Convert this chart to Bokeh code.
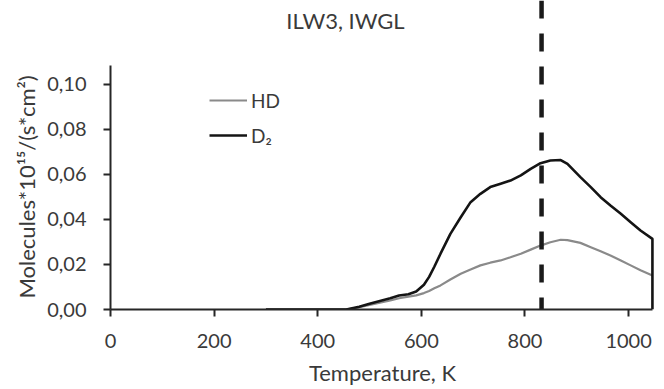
from bokeh.plotting import figure
from bokeh.models import Range1d, FixedTicker, Label, Legend, LegendItem, Title
from bokeh.embed import file_html
from bokeh.resources import INLINE

# ---- data ----
temperature_K = [300, 455, 480, 500, 520, 540, 557, 575, 590, 605, 615, 625, 637,
                 656, 676, 695, 714, 733, 753, 772, 792, 811, 830, 849, 869, 882,
                 907, 927, 946, 965, 985, 1004, 1023, 1046]
d2 = [0.0, 0.0, 0.0012, 0.0025, 0.0038, 0.005, 0.0062, 0.0068, 0.008, 0.011, 0.0145,
      0.019, 0.0248, 0.0336, 0.041, 0.0477, 0.0514, 0.0544, 0.0559, 0.0573, 0.0596,
      0.0625, 0.065, 0.0662, 0.0664, 0.0647, 0.0588, 0.0544, 0.0499, 0.0462, 0.0425,
      0.0388, 0.0351, 0.0314]
hd = [0.0, 0.0, 0.001, 0.002, 0.003, 0.004, 0.005, 0.0057, 0.0063, 0.0073, 0.0082,
      0.0094, 0.0107, 0.0133, 0.0159, 0.0178, 0.0196, 0.0208, 0.0218, 0.0232, 0.0248,
      0.0266, 0.0284, 0.0299, 0.031, 0.0308, 0.0296, 0.0277, 0.0259, 0.024, 0.0218,
      0.0196, 0.0174, 0.0151]
d2_end_value = 0.0          # D2 trace drops to zero at the last temperature
marker_T = 832              # dashed vertical marker

x_ticks = [0, 200, 400, 600, 800, 1000]
x_tick_labels = ["0", "200", "400", "600", "800", "1000"]
y_ticks = [0.0, 0.02, 0.04, 0.06, 0.08, 0.10]
y_tick_labels = ["0,00", "0,02", "0,04", "0,06", "0,08", "0,10"]

title_text = "ILW3, IWGL"
x_label = "Temperature, K"
y_label = "Molecules*10\u00b9\u2075/(s*cm\u00b2)"
series_names = ["HD", "D\u2082"]

x_max = 1050
x_axis_end = 1046
y_axis_end = 0.1084
y_top = 0.1373

FONT = "Lato"
TXT = "#3a3a3a"
AX = "#262626"

p = figure(width=664, height=389, output_backend="svg", toolbar_location=None,
           x_range=Range1d(0, x_max), y_range=Range1d(0, y_top),
           min_border_left=110, min_border_right=10, min_border_top=0,
           min_border_bottom=80)
p.background_fill_color = "white"
p.border_fill_color = "white"
p.outline_line_color = None
p.grid.visible = False

for ax in (p.xaxis, p.yaxis):
    ax.axis_line_color = AX
    ax.axis_line_width = 2
    ax.major_tick_line_color = AX
    ax.major_tick_line_width = 2
    ax.major_tick_out = 7
    ax.major_tick_in = 0
    ax.minor_tick_line_color = None
    ax.major_label_text_font = FONT
    ax.major_label_text_font_size = "20px"
    ax.major_label_text_color = TXT

p.xaxis.ticker = FixedTicker(ticks=x_ticks)
p.xaxis.major_label_overrides = {t: l for t, l in zip(x_ticks, x_tick_labels)}
p.xaxis.bounds = (0, x_axis_end)
p.xaxis.major_label_standoff = 17
p.xaxis.axis_label = x_label
p.xaxis.axis_label_text_font = FONT
p.xaxis.axis_label_text_font_size = "22px"
p.xaxis.axis_label_text_font_style = "normal"
p.xaxis.axis_label_text_color = TXT
p.xaxis.axis_label_standoff = 8

p.yaxis.ticker = FixedTicker(ticks=y_ticks)
p.yaxis.major_label_overrides = {t: l for t, l in zip(y_ticks, y_tick_labels)}
p.yaxis.bounds = (0, y_axis_end)
p.yaxis.major_label_standoff = 17

r_hd = p.line(temperature_K, hd, line_color="#8a8a8a", line_width=2.2)
r_d2 = p.line(temperature_K + [temperature_K[-1]], d2 + [d2_end_value],
              line_color="#141414", line_width=2.6)

p.line([marker_T, marker_T], [y_top, 0], line_color="#1a1a1a", line_width=4.5,
       line_dash="18 15", line_dash_offset=0)

legend = Legend(items=[LegendItem(label=series_names[0], renderers=[r_hd]),
                       LegendItem(label=series_names[1], renderers=[r_d2])],
                location=(99, 162), orientation="vertical",
                background_fill_alpha=0, border_line_alpha=0,
                padding=0, margin=0, spacing=11,
                glyph_width=38, glyph_height=24, label_height=24,
                label_standoff=4, label_text_font=FONT,
                label_text_font_size="19px", label_text_color=TXT)
p.add_layout(legend)

p.add_layout(Label(x=235, y=289, x_units="screen", y_units="screen",
                   text=title_text, text_font=FONT, text_font_size="22px",
                   text_color=TXT, text_align="center", text_baseline="middle"))

p.add_layout(Title(text=y_label, align="left", offset=11, text_font=FONT,
                   text_font_size="22px", text_font_style="normal",
                   text_color=TXT), "left")

open("out.html", "w").write(file_html(p, INLINE))
